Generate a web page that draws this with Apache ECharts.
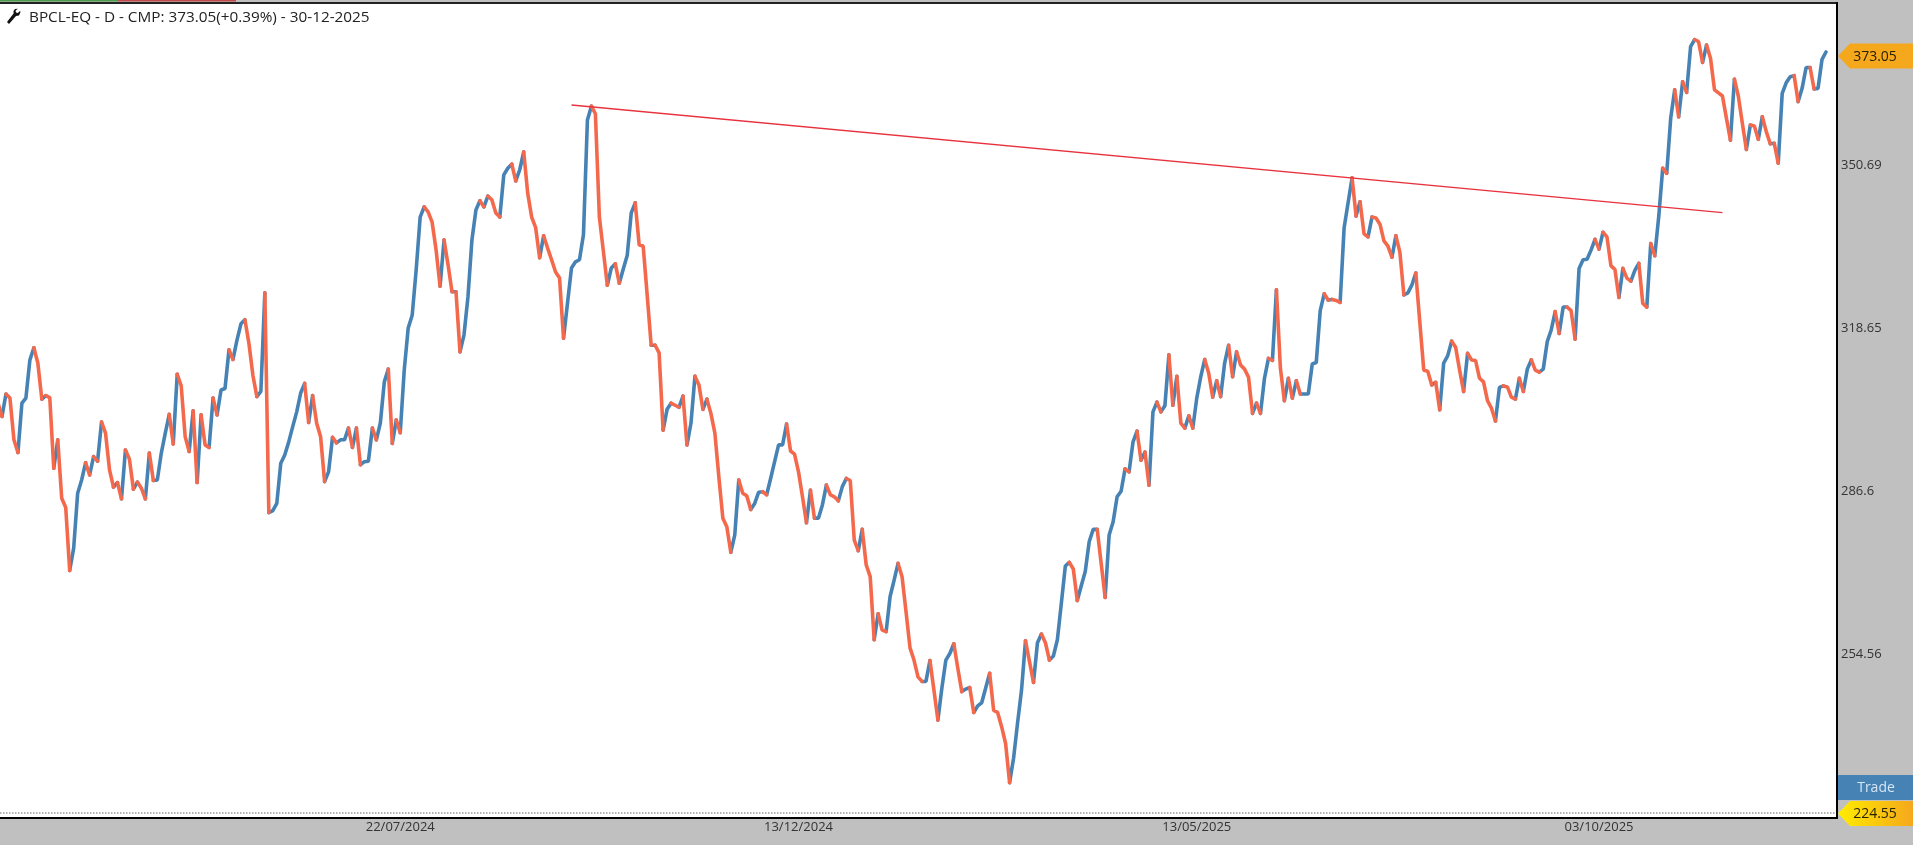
<!DOCTYPE html>
<html>
<head>
<meta charset="utf-8">
<title>BPCL-EQ</title>
<script src="https://cdn.jsdelivr.net/npm/echarts@6/dist/echarts.min.js"></script>
<style>
  html, body { margin: 0; padding: 0; background: #C0C0C0; overflow: hidden; }
  #main { width: 1913px; height: 845px; }
</style>
</head>
<body>
<div id="main"></div>
<script>
// daily close
let closes = [
  304.0,301.4,305.8,305.0,296.8,294.3,304.0,305.0,312.5,314.9,
  311.9,304.8,305.5,305.1,291.2,296.8,285.3,283.5,271.1,275.5,
  286.3,288.9,292.3,289.9,293.5,292.6,300.3,298.1,290.9,287.5,
  288.4,285.2,294.8,293.0,287.1,288.5,287.3,285.2,294.2,288.8,
  288.9,294.2,298.1,301.8,296.0,309.7,307.4,297.4,294.5,302.5,
  288.4,301.7,295.8,295.3,305.0,301.7,306.6,306.9,314.5,312.6,
  316.4,319.6,320.4,315.8,309.5,305.3,306.3,325.7,282.5,282.9,
  284.3,292.2,293.8,296.4,299.4,302.3,306.0,307.9,300.2,305.5,
  300.1,297.4,288.6,290.5,297.3,296.2,296.8,296.8,299.1,295.3,
  299.1,291.9,292.5,292.6,299.1,296.8,300.1,308.2,310.7,296.1,
  300.7,298.2,310.5,318.8,321.3,330.2,340.6,342.6,341.6,339.6,
  334.1,327.0,336.1,331.2,325.9,325.9,314.1,317.4,324.9,336.1,
  342.0,343.8,342.6,344.7,344.0,341.4,340.6,348.9,350.2,351.0,
  347.7,349.9,353.4,345.3,340.6,338.5,332.6,336.9,334.5,332.2,
  329.8,328.6,316.8,323.7,330.6,331.8,332.2,337.1,359.7,362.4,
  360.9,340.6,333.9,327.2,330.6,331.4,327.6,330.4,333.1,341.4,
  343.4,335.1,334.9,325.3,315.4,315.4,313.9,298.7,302.8,304.0,
  303.6,303.2,305.4,295.8,300.1,309.3,307.6,302.8,304.8,302.0,
  298.1,289.5,281.4,279.7,274.7,278.1,288.9,286.3,285.8,283.1,
  284.3,286.5,286.6,286.0,289.2,292.5,295.8,295.8,299.9,294.6,
  294.0,290.5,285.6,280.5,286.9,281.4,281.4,284.0,287.9,286.0,
  285.6,284.8,287.6,289.2,288.8,277.1,275.0,279.2,272.2,269.9,
  257.5,262.6,259.4,259.1,266.0,269.2,272.5,269.9,263.0,255.9,
  253.5,250.2,249.3,249.3,253.4,247.6,241.7,248.0,253.5,254.8,
  256.7,251.9,247.3,247.8,248.1,243.2,244.5,245.1,248.0,250.9,
  243.6,243.2,240.4,237.1,229.4,234.2,241.1,247.6,257.3,253.2,
  249.1,256.9,258.6,256.9,253.5,254.3,257.5,264.7,272.0,272.7,
  271.4,265.2,268.1,270.9,276.8,279.2,279.2,272.5,265.8,278.1,
  280.7,285.6,286.7,291.1,290.5,296.4,298.5,292.8,294.4,287.9,
  302.3,304.2,302.3,303.5,313.5,303.6,309.3,300.1,299.1,301.5,
  299.1,305.0,309.2,312.6,309.9,305.2,308.4,305.3,311.9,315.4,
  309.2,314.1,311.5,310.7,309.1,302.0,304.0,302.0,308.9,312.8,
  312.4,326.3,310.9,304.5,308.9,305.0,308.4,305.8,305.8,305.8,
  311.7,312.0,322.2,325.5,324.3,324.4,324.2,323.8,338.5,343.4,
  348.3,340.8,343.6,337.3,336.7,340.6,340.4,339.2,335.9,334.9,
  332.7,336.9,333.7,325.3,325.7,327.2,329.6,320.0,310.5,310.3,
  307.6,308.1,302.7,311.9,313.3,316.2,315.0,310.5,306.3,313.8,
  312.5,312.4,308.9,308.2,304.5,303.0,300.5,307.1,307.4,307.2,
  305.2,304.8,308.9,306.3,310.7,312.5,310.5,310.1,310.7,316.1,
  318.4,322.0,317.7,322.9,322.9,322.2,316.6,330.5,332.2,332.3,
  334.1,336.2,334.3,337.6,336.7,331.0,330.3,324.8,330.5,328.6,
  328.0,330.1,331.5,323.6,322.9,335.4,333.0,340.7,350.2,349.2,
  360.0,365.6,360.3,367.2,365.1,374.1,375.5,375.1,371.0,374.4,
  371.8,365.6,365.0,364.4,360.0,355.7,367.7,364.3,359.0,353.9,
  358.7,358.5,355.9,360.3,357.4,355.0,355.1,351.2,364.9,367.0,
  368.2,368.4,363.3,365.9,370.0,370.0,365.8,365.9,371.6,373.05
];
let tickBars = [101, 201, 301, 402];
let tickDates = ['22/07/2024', '13/12/2024', '13/05/2025', '03/10/2025'];
let priceTicks = [350.69, 318.65, 286.6, 254.56];
let trendBars = [144, 433];
let trendPrices = [362.63, 341.45];
let titleText = 'BPCL-EQ - D - CMP: 373.05(+0.39%) - 30-12-2025';

const BLUE = '#4682B4';
const ORANGE = '#F4694C';
const FONT = '"Open Sans", "Noto Sans", sans-serif';

// split the closes into up and down runs, a run breaks where the direction turns
function buildRuns() {
  let up = [], down = [];
  for (let i = 0; i < closes.length - 1; i++) {
    let isUp = closes[i + 1] >= closes[i];
    let target = isUp ? up : down;
    let prevUp = i > 0 ? closes[i] >= closes[i - 1] : !isUp;
    if (prevUp !== isUp) {
      target.push([i, null]);
      target.push([i, closes[i]]);
    }
    target.push([i + 1, closes[i + 1]]);
  }
  return { up: up, down: down };
}
let runs = buildRuns();

function priceTag(y, text, fill) {
  return [{
    type: 'polygon',
    shape: { points: [[1838, y], [1850, y - 12.5], [1913, y - 12.5], [1913, y + 12.5], [1850, y + 12.5]] },
    style: { fill: fill }
  }, {
    type: 'text', x: 1875, y: y + 1,
    style: { text: text, fill: '#2a2200', font: '14px ' + FONT, textAlign: 'center', textVerticalAlign: 'middle' }
  }];
}

let myChart = echarts.init(document.getElementById('main'));
myChart.setOption({
  animation: false,
  backgroundColor: '#C0C0C0',
  title: {
    text: titleText,
    left: 24,
    top: 5,
    textStyle: { fontFamily: FONT, fontSize: 15.3, fontWeight: 'normal', color: '#222' }
  },
  grid: {
    show: true,
    left: 0,
    right: 76,
    top: 3,
    bottom: 27,
    backgroundColor: '#FFFFFF',
    borderWidth: 0
  },
  xAxis: {
    type: 'value',
    min: 0.5,
    max: 461.76,
    splitLine: { show: false },
    axisLine: { show: true, onZero: false, lineStyle: { color: '#000', width: 2 } },
    axisTick: { show: false },
    axisLabel: {
      customValues: tickBars,
      margin: 3,
      color: '#333',
      fontFamily: FONT,
      fontSize: 13,
      formatter: function (val) {
        return tickDates[tickBars.indexOf(val)];
      }
    }
  },
  yAxis: {
    type: 'value',
    position: 'right',
    min: 222.45,
    max: 382.68,
    splitLine: { show: false },
    axisLine: { show: true, onZero: false, lineStyle: { color: '#000', width: 2 } },
    axisTick: { show: false },
    axisLabel: {
      customValues: priceTicks,
      margin: 4,
      padding: [4, 0, 0, 0],
      color: '#333',
      fontFamily: FONT,
      fontSize: 13,
      formatter: function (val) { return String(val); }
    }
  },
  series: [
    {
      type: 'line', data: runs.up, showSymbol: false, symbol: 'none', z: 3, silent: true,
      lineStyle: { color: BLUE, width: 3.6, cap: 'round' }
    },
    {
      type: 'line', data: runs.down, showSymbol: false, symbol: 'none', z: 3, silent: true,
      lineStyle: { color: ORANGE, width: 3.6, cap: 'round' }
    },
    {
      type: 'line', data: trendBars.map((b, i) => [b, trendPrices[i]]), showSymbol: false, symbol: 'none', z: 4, silent: true,
      lineStyle: { color: '#E8333F', width: 1.3 }
    }
  ],
  graphic: [
    // strip along the top edge
    { type: 'rect', shape: { x: 0, y: 0, width: 118, height: 1.5 }, style: { fill: '#4C9A4C' } },
    { type: 'rect', shape: { x: 118, y: 0, width: 118, height: 1.5 }, style: { fill: '#C04A4A' } },
    { type: 'rect', shape: { x: 0, y: 2, width: 1838, height: 2 }, style: { fill: '#222' } },
    // wrench next to the title
    {
      type: 'polygon',
      shape: { points: [[7, 22], [9, 24], [16, 16], [19, 15.5], [20.5, 12], [20, 11], [17.8, 13], [16, 12.5], [15.5, 10.8], [17.8, 8.8], [15, 9], [13.5, 11], [13.6, 13.5]] },
      style: { fill: '#111' }
    },
    // dotted line at the bottom of the plot
    {
      type: 'line',
      shape: { x1: 0, y1: 813, x2: 1836, y2: 813 },
      style: { stroke: '#666', lineWidth: 1, lineDash: [1.5, 1.5] }
    },
    // trade button and price tags on the right
    { type: 'rect', shape: { x: 1837, y: 775, width: 76, height: 25 }, style: { fill: BLUE } },
    {
      type: 'text', x: 1876, y: 788,
      style: { text: 'Trade', fill: '#D6E6F5', font: '14px ' + FONT, textAlign: 'center', textVerticalAlign: 'middle' }
    },
    ...priceTag(56, '373.05', '#F5A81C'),
    ...priceTag(813.5, '224.55', new echarts.graphic.LinearGradient(0, 0, 1, 0, [
      { offset: 0, color: '#FFEC00' },
      { offset: 1, color: '#F5A81C' }
    ]))
  ]
});
</script>
</body>
</html>
